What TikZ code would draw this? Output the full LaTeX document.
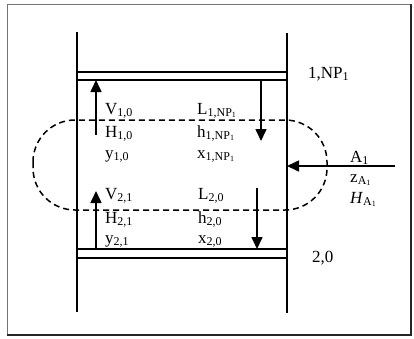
\documentclass[tikz,border=0pt]{standalone}
\usepackage{fontspec}
\setmainfont{Liberation Serif}
\usepackage{tikz}
\usetikzlibrary{arrows.meta}
\newcommand\lsub[1]{\raisebox{-2.5pt}{\fontsize{12}{12}\selectfont #1}}
\newcommand\llsub[1]{\raisebox{-1pt}{\fontsize{8}{8}\selectfont #1}}

\begin{document}
\begin{tikzpicture}[x=1pt, y=-1pt,
      wall/.style={line width=1.6pt},
      tray/.style={line width=1.6pt},
      flow/.style={-{Triangle[length=12pt, width=11pt]}, line width=1.6pt},
      envelope/.style={dash pattern=on 6pt off 4pt, line width=1.5pt, rounded corners=42pt},
      lbl/.style={anchor=base west, inner sep=0pt, font=\fontsize{17}{19}\selectfont}
  ]
    \useasboundingbox (0,0) rectangle (414,338);
    \coordinate (fr1) at (7,4);   \coordinate (fr2) at (411,4);
    \coordinate (fr3) at (411,335); \coordinate (fr4) at (7,335);
    \draw[black!55, line width=0.8pt] (fr4) -- (fr1) -- (fr2);
    \draw[black!85, line width=1.2pt] (fr2) -- (fr3) -- (fr4);
    \coordinate (lwtop) at (77,32);  \coordinate (lwbot) at (77,312);
    \coordinate (rwtop) at (287,33); \coordinate (rwbot) at (287,313);
    \draw[wall] (lwtop) -- (lwbot);
    \draw[wall] (rwtop) -- (rwbot);
    \coordinate (t1a) at (77,72);  \coordinate (t1b) at (287,72);
    \coordinate (t1c) at (77,80);  \coordinate (t1d) at (287,80);
    \coordinate (t2a) at (77,249); \coordinate (t2b) at (287,249);
    \coordinate (t2c) at (77,258); \coordinate (t2d) at (287,258);
    \draw[tray] (t1a) -- (t1b); \draw[tray] (t1c) -- (t1d);
    \draw[tray] (t2a) -- (t2b); \draw[tray] (t2c) -- (t2d);
    \draw[envelope] (33,120) rectangle (327,210);
    \coordinate (v1s) at (96,135); \coordinate (v1e) at (96,80);
    \coordinate (l1s) at (261,80); \coordinate (l1e) at (261,141);
    \coordinate (v2s) at (96,249); \coordinate (v2e) at (96,191);
    \coordinate (l2s) at (257,188); \coordinate (l2e) at (257,249);
    \coordinate (fs) at (395,166); \coordinate (fe) at (287,166);
    \draw[flow] (v1s) -- (v1e); \draw[flow] (l1s) -- (l1e);
    \draw[flow] (v2s) -- (v2e); \draw[flow] (l2s) -- (l2e);
    \draw[flow] (fs) -- (fe);
    \node[lbl] (V10) at (105,114) {V\lsub{1,0}};
    \node[lbl] (H10) at (105,137) {H\lsub{1,0}};
    \node[lbl] (y10) at (105,158) {y\lsub{1,0}};
    \node[lbl] (L1N) at (197,114) {L\lsub{1,NP\llsub{1}}};
    \node[lbl] (h1N) at (197,137) {h\lsub{1,NP\llsub{1}}};
    \node[lbl] (x1N) at (197,158) {x\lsub{1,NP\llsub{1}}};
    \node[lbl] (V21) at (105,199) {V\lsub{2,1}};
    \node[lbl] (H21) at (105,223) {H\lsub{2,1}};
    \node[lbl] (y21) at (105,243) {y\lsub{2,1}};
    \node[lbl] (L20) at (198,199) {L\lsub{2,0}};
    \node[lbl] (h20) at (198,223) {h\lsub{2,0}};
    \node[lbl] (x20) at (198,243) {x\lsub{2,0}};
    \node[lbl] (st1) at (308,78) {1,NP\lsub{1}};
    \node[lbl] (st2) at (312,262) {2,0};
    \node[lbl] (A1) at (350,162) {A\lsub{1}};
    \node[lbl] (zA) at (350,182) {z\lsub{A\llsub{1}}};
    \node[lbl] (HA) at (350,203) {\textit{H}\lsub{A\llsub{1}}};
  \end{tikzpicture}
\end{document}
